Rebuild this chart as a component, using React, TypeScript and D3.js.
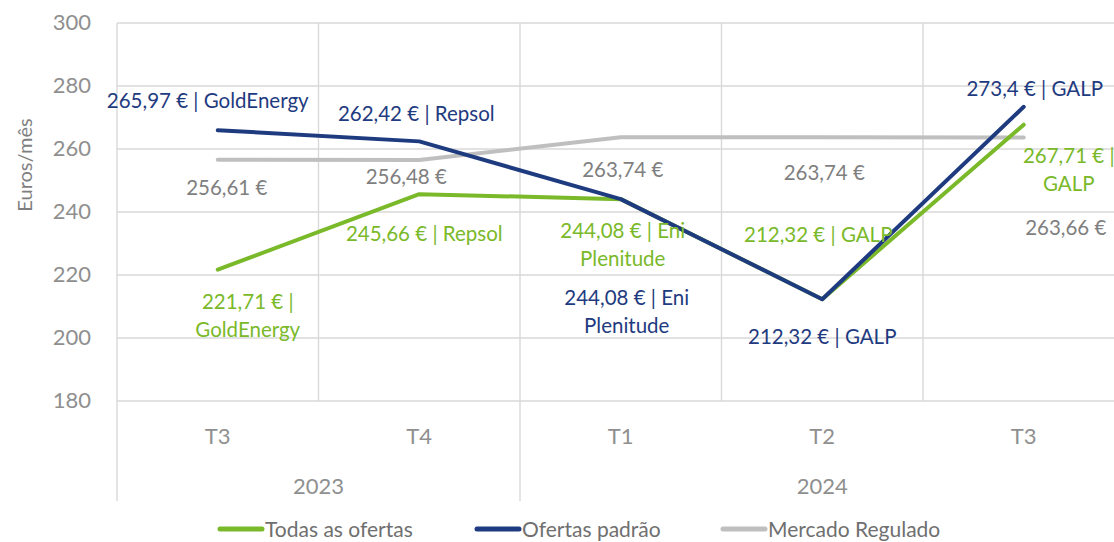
import React from "react";
import * as d3 from "d3";

const quarters = ["T3", "T4", "T1", "T2", "T3"];
const years = [
  { label: "2023", from: 0, to: 2 },
  { label: "2024", from: 2, to: 5 },
];
const yTicks = [180, 200, 220, 240, 260, 280, 300];

const todasValues = [221.71, 245.66, 244.08, 212.32, 267.71];
const todasLabels = [
  ["221,71 € |", "GoldEnergy"],
  ["245,66 € | Repsol"],
  ["244,08 € | Eni", "Plenitude"],
  ["212,32 € | GALP"],
  ["267,71 € |", "GALP"],
];
const padraoValues = [265.97, 262.42, 244.08, 212.32, 273.4];
const padraoLabels = [
  ["265,97 € | GoldEnergy"],
  ["262,42 € | Repsol"],
  ["244,08 € | Eni", "Plenitude"],
  ["212,32 € | GALP"],
  ["273,4 € | GALP"],
];
const reguladoValues = [256.61, 256.48, 263.74, 263.74, 263.66];
const reguladoLabels = [["256,61 €"], ["256,48 €"], ["263,74 €"], ["263,74 €"], ["263,66 €"]];

// label placement offsets (layout only)
const todasOffsets = [[30, 45], [5, 39], [2, 45], [-4, -65], [45, 44]];
const padraoOffsets = [[-10, -30], [-3, -28], [6, 112], [0, 37], [11, -19]];
const reguladoOffsets = [[9, 27], [-13, 16], [2, 32], [2, 35], [42, 90]];

const W = 1114;
const H = 542;
const FONT = "Lato, 'Open Sans', sans-serif";

const series = [
  { name: "Mercado Regulado", values: reguladoValues, labels: reguladoLabels, offsets: reguladoOffsets, color: "#BFBFBF", text: "#7F7F7F" },
  { name: "Todas as ofertas", values: todasValues, labels: todasLabels, offsets: todasOffsets, color: "#7AB929", text: "#7AB929" },
  { name: "Ofertas padrão", values: padraoValues, labels: padraoLabels, offsets: padraoOffsets, color: "#1F3B80", text: "#1F3B80" },
];
const legendOrder = [
  { name: "Todas as ofertas", color: "#7AB929", x: 218 },
  { name: "Ofertas padrão", color: "#1F3B80", x: 475 },
  { name: "Mercado Regulado", color: "#BFBFBF", x: 721 },
];

export default function App() {
  const left = 117;
  const right = 1124.5;
  const top = 23;
  const bottom = 401;
  const x = d3.scaleBand<number>().domain(quarters.map((_, i) => i)).range([left, right]);
  const y = d3.scaleLinear().domain([180, 300]).range([bottom, top]);
  const cx = (i: number) => (x(i) as number) + x.bandwidth() / 2;
  const line = d3
    .line<number>()
    .x((_, i) => cx(i))
    .y((v) => y(v));

  const boundaries = d3.range(quarters.length + 1).map((i) => left + i * x.bandwidth());
  const yearBoundaries = new Set<number>();
  years.forEach((yr) => {
    yearBoundaries.add(yr.from);
    yearBoundaries.add(yr.to);
  });

  return (
    <div style={{ position: "fixed", left: 0, top: 0 }}>
      <svg width={W} height={H} style={{ display: "block", background: "#fff" }} fontFamily={FONT}>
        {/* horizontal gridlines */}
        {yTicks.map((t) => (
          <line key={"h" + t} x1={left} x2={right} y1={y(t)} y2={y(t)} stroke="#D9D9D9" strokeWidth={1.4} />
        ))}
        {/* vertical gridlines / category separators */}
        {boundaries.map((bx, i) => (
          <line
            key={"v" + i}
            x1={bx}
            x2={bx}
            y1={top}
            y2={yearBoundaries.has(i) ? 501 : bottom}
            stroke="#D9D9D9"
            strokeWidth={1.4}
          />
        ))}
        {/* y tick labels */}
        {yTicks.map((t) => (
          <text key={"yt" + t} x={91} y={y(t) - 2} textAnchor="end" dominantBaseline="central" fontSize={22} fill="#8F8F8F">
            {t}
          </text>
        ))}
        {/* y axis title */}
        <text transform={`translate(24,${165}) rotate(-90)`} textAnchor="middle" dominantBaseline="central" fontSize={20} fill="#7F7F7F">
          Euros/mês
        </text>
        {/* category labels */}
        {quarters.map((q, i) => (
          <text key={"q" + i} x={cx(i)} y={435} textAnchor="middle" dominantBaseline="central" fontSize={22} fill="#8F8F8F">
            {q}
          </text>
        ))}
        {years.map((yr) => (
          <text
            key={yr.label}
            x={(boundaries[yr.from] + boundaries[yr.to]) / 2}
            y={485}
            textAnchor="middle"
            dominantBaseline="central"
            fontSize={22}
            fill="#8F8F8F"
          >
            {yr.label}
          </text>
        ))}
        {/* lines */}
        {series.map((s) => (
          <path key={s.name} d={line(s.values) || ""} fill="none" stroke={s.color} strokeWidth={4} strokeLinecap="round" strokeLinejoin="round" />
        ))}
        {/* data labels */}
        {series.map((s) =>
          s.values.map((v, i) => {
            const [dx, dy] = s.offsets[i];
            const lines = s.labels[i];
            const lh = 28;
            const x0 = cx(i) + dx;
            const y0 = y(v) + dy - ((lines.length - 1) * lh) / 2;
            return (
              <text key={s.name + i} textAnchor="middle" dominantBaseline="central" fontSize={20.5} fill={s.text}>
                {lines.map((ln, k) => (
                  <tspan key={k} x={x0} y={y0 + k * lh}>
                    {ln}
                  </tspan>
                ))}
              </text>
            );
          })
        )}
        {/* legend */}
        {legendOrder.map((l) => (
          <g key={l.name}>
            <line x1={l.x + 2} x2={l.x + 44} y1={529} y2={529} stroke={l.color} strokeWidth={5} strokeLinecap="round" />
            <text x={l.x + 47} y={528} dominantBaseline="central" fontSize={21} fill="#6F6F6F">
              {l.name}
            </text>
          </g>
        ))}
      </svg>
    </div>
  );
}
